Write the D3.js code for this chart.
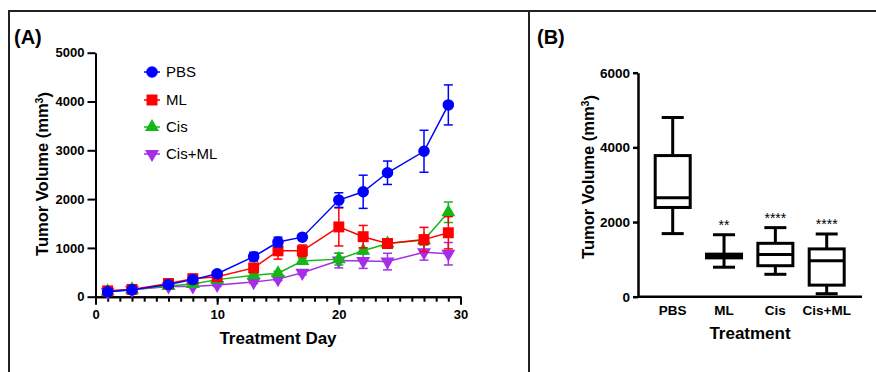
<!DOCTYPE html>
<html>
<head>
<meta charset="utf-8">
<script src="https://cdn.jsdelivr.net/npm/d3@7"></script>
<style>
  body { margin: 0; background: #fff; }
  text { font-family: Arial, "Liberation Sans", sans-serif; }
</style>
</head>
<body>
<div id="chart"></div>
<script>
// panel A: growth curves
var days = [1, 3, 6, 8, 10, 13, 15, 17, 20, 22, 24, 27, 29];
var pbsMean = [100, 140, 250, 350, 470, 820, 1120, 1220, 1980, 2150, 2540, 2980, 3930];
var pbsErr = [30, 30, 40, 50, 50, 90, 100, 50, 150, 340, 240, 430, 410];
var mlMean = [120, 150, 270, 370, 410, 590, 940, 940, 1430, 1230, 1090, 1170, 1310];
var mlErr = [30, 30, 30, 40, 40, 70, 170, 120, 390, 230, 90, 250, 330];
var cisMean = [110, 150, 220, 260, 350, 440, 480, 730, 770, 940, 1090, 1160, 1730];
var cisErr = [20, 20, 30, 30, 30, 40, 40, 60, 120, 60, 90, 100, 210];
var cismlMean = [100, 140, 210, 210, 240, 300, 360, 490, 740, 730, 720, 910, 880];
var cismlErr = [20, 20, 20, 20, 30, 30, 30, 40, 150, 150, 170, 160, 230];
var seriesNames = ["PBS", "ML", "Cis", "Cis+ML"];
var xTicksA = [0, 10, 20, 30];
var yTicksA = [0, 1000, 2000, 3000, 4000, 5000];

// panel B: box plot at end point
var boxCats = ["PBS", "ML", "Cis", "Cis+ML"];
var boxMin = [1690, 790, 600, 80];
var boxQ1 = [2390, 1040, 830, 310];
var boxMed = [2650, 1090, 1130, 960];
var boxQ3 = [3780, 1140, 1430, 1280];
var boxMax = [4800, 1660, 1850, 1680];
var sigLabels = ["", "**", "****", "****"];
var yTicksB = [0, 2000, 4000, 6000];

var width = 876;
var height = 372;

var svg = d3.select("#chart")
    .append("svg")
    .attr("width", width)
    .attr("height", height);

// frame lines
var frame = "#222";
svg.append("line").attr("x1", 8).attr("x2", 876).attr("y1", 11).attr("y2", 11)
    .style("stroke", frame).style("stroke-width", 2);
svg.append("line").attr("x1", 9).attr("x2", 9).attr("y1", 10).attr("y2", 372)
    .style("stroke", frame).style("stroke-width", 2);
svg.append("line").attr("x1", 529).attr("x2", 529).attr("y1", 10).attr("y2", 372)
    .style("stroke", frame).style("stroke-width", 2);

// panel labels
svg.append("text").attr("x", 14).attr("y", 44)
    .style("font-size", "20px").style("font-weight", "bold").text("(A)");
svg.append("text").attr("x", 537).attr("y", 44)
    .style("font-size", "20px").style("font-weight", "bold").text("(B)");

// ---------- panel A ----------
var xA = d3.scaleLinear().domain([0, 30]).range([95.5, 460.5]);
var yA = d3.scaleLinear().domain([0, 5000]).range([296.7, 52.7]);

var gA = svg.append("g");

var yAxisA = d3.axisLeft(yA).tickValues(yTicksA).tickFormat(d3.format("d"))
    .tickSize(8).tickSizeOuter(0).tickPadding(3);
gA.append("g").attr("transform", "translate(" + xA(0) + ",0)").call(yAxisA);

// minor day ticks
gA.append("g").attr("transform", "translate(0," + yA(0) + ")")
    .call(d3.axisBottom(xA).ticks(30).tickSize(5).tickSizeOuter(0).tickFormat(""));
var xAxisA = d3.axisBottom(xA).tickValues(xTicksA).tickFormat(d3.format("d"))
    .tickSize(8).tickSizeOuter(0).tickPadding(5);
gA.append("g").attr("transform", "translate(0," + yA(0) + ")").call(xAxisA);

gA.selectAll(".domain, .tick line").style("stroke", "#000").style("stroke-width", 2);
gA.selectAll(".tick text").style("font-size", "13px").style("font-weight", "bold")
    .style("fill", "#000");

gA.append("text")
    .attr("transform", "translate(42,174) rotate(-90)")
    .attr("text-anchor", "middle").attr("dy", ".35em")
    .style("font-size", "16.5px").style("font-weight", "bold")
    .text("Tumor Volume (mm")
    .append("tspan").attr("dy", "-0.45em").style("font-size", "10.5px").text("3")
    .select(function () { return this.parentNode; })
    .append("tspan").attr("dy", "0.45em").text(")");

gA.append("text").attr("x", xA(15)).attr("y", 344)
    .attr("text-anchor", "middle")
    .style("font-size", "17px").style("font-weight", "bold")
    .text("Treatment Day");

var series = [
    { name: "Cis+ML", mean: cismlMean, err: cismlErr, color: "#a52ee6", sym: "down" },
    { name: "Cis", mean: cisMean, err: cisErr, color: "#14b814", sym: "up" },
    { name: "ML", mean: mlMean, err: mlErr, color: "#ff0000", sym: "square" },
    { name: "PBS", mean: pbsMean, err: pbsErr, color: "#0000ff", sym: "circle" }
];

function symPath(s) {
    if (s === "circle") return d3.symbol().type(d3.symbolCircle).size(105)();
    if (s === "square") return d3.symbol().type(d3.symbolSquare).size(120)();
    return d3.symbol().type(d3.symbolTriangle).size(85)();
}
function symTransform(s, x, y) {
    return "translate(" + x + "," + y + ")" + (s === "down" ? " rotate(180)" : "");
}

var line = d3.line()
    .x(function (d) { return xA(d.day); })
    .y(function (d) { return yA(d.v); });

series.forEach(function (s) {
    var pts = days.map(function (d, i) { return { day: d, v: s.mean[i], e: s.err[i] }; });
    var g = gA.append("g");
    g.append("path").datum(pts).attr("d", line)
        .style("fill", "none").style("stroke", s.color).style("stroke-width", 1.5);
    var eb = g.selectAll(".eb").data(pts).enter().append("g");
    eb.append("line")
        .attr("x1", function (d) { return xA(d.day); })
        .attr("x2", function (d) { return xA(d.day); })
        .attr("y1", function (d) { return yA(d.v - d.e); })
        .attr("y2", function (d) { return yA(d.v + d.e); })
        .style("stroke", s.color).style("stroke-width", 1.5);
    [-1, 1].forEach(function (sign) {
        eb.append("line")
            .attr("x1", function (d) { return xA(d.day) - 4.5; })
            .attr("x2", function (d) { return xA(d.day) + 4.5; })
            .attr("y1", function (d) { return yA(d.v + sign * d.e); })
            .attr("y2", function (d) { return yA(d.v + sign * d.e); })
            .style("stroke", s.color).style("stroke-width", 1.5);
    });
    g.selectAll(".pt").data(pts).enter().append("path")
        .attr("d", symPath(s.sym))
        .attr("transform", function (d) { return symTransform(s.sym, xA(d.day), yA(d.v)); })
        .style("fill", s.color);
});

// legend
var legendY = [72, 100, 127, 154];
seriesNames.forEach(function (n, i) {
    var s = series.filter(function (d) { return d.name === n; })[0];
    var lg = gA.append("g");
    lg.append("line").attr("x1", 144).attr("x2", 160)
        .attr("y1", legendY[i]).attr("y2", legendY[i])
        .style("stroke", s.color).style("stroke-width", 1.5);
    lg.append("path").attr("d", symPath(s.sym))
        .attr("transform", symTransform(s.sym, 152, legendY[i]))
        .style("fill", s.color);
    lg.append("text").attr("x", 166).attr("y", legendY[i]).attr("dy", ".35em")
        .style("font-size", "15px").style("fill", "#000").text(n);
});

// ---------- panel B ----------
var xB = d3.scalePoint().domain(boxCats).range([672.7, 826.7]);
var yB = d3.scaleLinear().domain([0, 6000]).range([296.7, 72.7]);

var gB = svg.append("g");
gB.append("g").attr("transform", "translate(638,0)")
    .call(d3.axisLeft(yB).tickValues(yTicksB).tickFormat(d3.format("d"))
        .tickSize(5).tickSizeOuter(0).tickPadding(3));
gB.append("g").attr("transform", "translate(0," + yB(0) + ")")
    .call(d3.axisBottom(xB).tickSize(0).tickPadding(9).offset(0))
    .select(".domain").attr("d", "M638,0H862");

gB.selectAll(".domain, .tick line").style("stroke", "#000").style("stroke-width", 2.5);
gB.selectAll(".tick text").style("font-size", "13.5px").style("font-weight", "bold")
    .style("fill", "#000");

gB.append("text")
    .attr("transform", "translate(588,177) rotate(-90)")
    .attr("text-anchor", "middle").attr("dy", ".35em")
    .style("font-size", "16.5px").style("font-weight", "bold")
    .text("Tumor Volume (mm")
    .append("tspan").attr("dy", "-0.45em").style("font-size", "10.5px").text("3")
    .select(function () { return this.parentNode; })
    .append("tspan").attr("dy", "0.45em").text(")");

gB.append("text").attr("x", 750).attr("y", 339)
    .attr("text-anchor", "middle")
    .style("font-size", "17px").style("font-weight", "bold")
    .text("Treatment");

var boxW = 35;
var capW = 22;
boxCats.forEach(function (c, i) {
    var cx = xB(c);
    var g = gB.append("g").style("stroke", "#000").style("stroke-width", 3).style("fill", "none");
    g.append("line").attr("x1", cx).attr("x2", cx).attr("y1", yB(boxMax[i])).attr("y2", yB(boxQ3[i]));
    g.append("line").attr("x1", cx).attr("x2", cx).attr("y1", yB(boxQ1[i])).attr("y2", yB(boxMin[i]));
    g.append("line").attr("x1", cx - capW / 2).attr("x2", cx + capW / 2)
        .attr("y1", yB(boxMax[i])).attr("y2", yB(boxMax[i]));
    g.append("line").attr("x1", cx - capW / 2).attr("x2", cx + capW / 2)
        .attr("y1", yB(boxMin[i])).attr("y2", yB(boxMin[i]));
    g.append("rect").attr("x", cx - boxW / 2).attr("width", boxW)
        .attr("y", yB(boxQ3[i])).attr("height", yB(boxQ1[i]) - yB(boxQ3[i]))
        .style("fill", "#fff");
    g.append("line").attr("x1", cx - boxW / 2).attr("x2", cx + boxW / 2)
        .attr("y1", yB(boxMed[i])).attr("y2", yB(boxMed[i]));
    gB.append("text").attr("x", cx).attr("y", yB(boxMax[i]) - 5)
        .attr("text-anchor", "middle")
        .style("font-size", "14px").style("fill", "#000")
        .text(sigLabels[i]);
});
</script>
</body>
</html>
